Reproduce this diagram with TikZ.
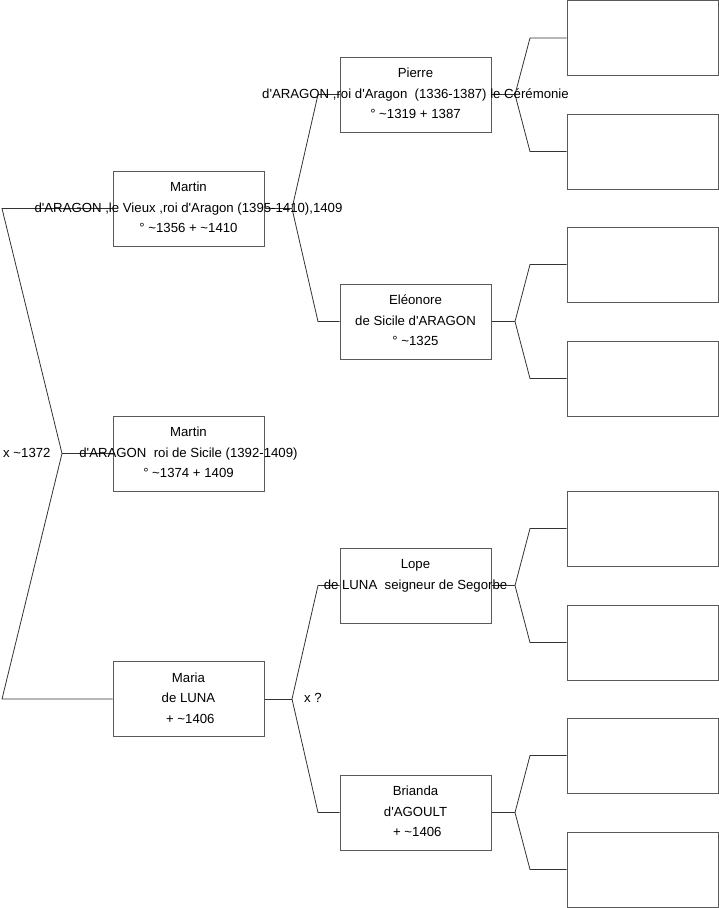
\documentclass[tikz,border=0pt]{standalone}
\usepackage{fontspec}
\setmainfont{Liberation Sans}
\newcommand\tld{\textasciitilde}
\newcommand\aq{\textquotesingle}
\begin{document}
\begin{tikzpicture}[x=1pt,y=-1pt,
  box/.style={draw=black!65,line width=1pt,minimum width=151pt,minimum height=75pt,inner sep=0pt,anchor=center},
  txt/.style={inner sep=0pt,align=center,font=\fontsize{13.2}{20.5}\selectfont},
  ln/.style={draw=black!80,line width=0.8pt}]
\useasboundingbox (0,0) rectangle (719,908);
% main boxes
\node[box] (m1) at (188.5,208.5) {};
\node[box] (m2) at (188.5,453.5) {};
\node[box] (ma) at (188.5,699) {};
\node[box] (pi) at (415.5,94.5) {};
\node[box] (el) at (415.5,321.5) {};
\node[box] (lo) at (415.5,585.5) {};
\node[box] (br) at (415.5,812.5) {};
% empty boxes
\node[box] (e1) at (642.5,38) {};
\node[box] (e2) at (642.5,151.5) {};
\node[box] (e3) at (642.5,264.5) {};
\node[box] (e4) at (642.5,378.5) {};
\node[box] (e5) at (642.5,528.5) {};
\node[box] (e6) at (642.5,642.5) {};
\node[box] (e7) at (642.5,755.5) {};
\node[box] (e8) at (642.5,869.5) {};
% fork coordinates
\coordinate (a1) at (2,208.5);
\coordinate (a2) at (2,699);
\coordinate (f0) at (62,453.5);
\coordinate (f1) at (292,208.5);
\coordinate (f2) at (292,699);
\coordinate (p1) at (318,94.5);
\coordinate (p2) at (318,321.5);
\coordinate (p3) at (318,585.5);
\coordinate (p4) at (318,812.5);
\coordinate (g1) at (515,94.5);
\coordinate (g2) at (515,321.5);
\coordinate (g3) at (515,585.5);
\coordinate (g4) at (515,812.5);
\coordinate (h1) at (530,38);
\coordinate (h2) at (530,151.5);
\coordinate (h3) at (530,264.5);
\coordinate (h4) at (530,378.5);
\coordinate (h5) at (530,528.5);
\coordinate (h6) at (530,642.5);
\coordinate (h7) at (530,755.5);
\coordinate (h8) at (530,869.5);
% connectors
\draw[ln] (m1.west) -- (a1) -- (f0) -- (a2) -- (ma.west);
\draw[ln] (f0) -- (m2.west);
\draw[ln] (m1.east) -- (f1);
\draw[ln] (pi.west) -- (p1) -- (f1) -- (p2) -- (el.west);
\draw[ln] (ma.east) -- (f2);
\draw[ln] (lo.west) -- (p3) -- (f2) -- (p4) -- (br.west);
\draw[ln] (pi.east) -- (g1);
\draw[ln] (e1.west) -- (h1) -- (g1) -- (h2) -- (e2.west);
\draw[ln] (el.east) -- (g2);
\draw[ln] (e3.west) -- (h3) -- (g2) -- (h4) -- (e4.west);
\draw[ln] (lo.east) -- (g3);
\draw[ln] (e5.west) -- (h5) -- (g3) -- (h6) -- (e6.west);
\draw[ln] (br.east) -- (g4);
\draw[ln] (e7.west) -- (h7) -- (g4) -- (h8) -- (e8.west);
% texts
\node[txt] (t1) at ([yshift=1pt]m1) {Martin\\d\aq ARAGON ,le Vieux ,roi d\aq Aragon (1395-1410),1409\\° \tld1356 + \tld1410};
\node[txt] (t2) at ([yshift=1pt]m2) {Martin\\d\aq ARAGON\ \ roi de Sicile (1392-1409)\\° \tld1374 + 1409};
\node[txt] (t3) at ([yshift=1pt]ma) {Maria\\de LUNA\\\ + \tld1406};
\node[txt] (t4) at ([yshift=1pt]pi) {Pierre\\d\aq ARAGON ,roi d\aq Aragon\ \ (1336-1387) le Cérémonie\\° \tld1319 + 1387};
\node[txt] (t5) at ([yshift=1pt]el) {Eléonore\\de Sicile d\aq ARAGON\\° \tld1325};
\node[txt] (t6) at ([yshift=1pt]lo) {Lope\\de LUNA\ \ seigneur de Segorbe\\\mbox{}};
\node[txt] (t7) at ([yshift=1pt]br) {Brianda\\d\aq AGOULT\\\ + \tld1406};
\node[txt,anchor=west] (x1) at (3,452.5) {x \tld1372};
\node[txt,anchor=west] (x2) at (304,698) {x ?};
\end{tikzpicture}
\end{document}
